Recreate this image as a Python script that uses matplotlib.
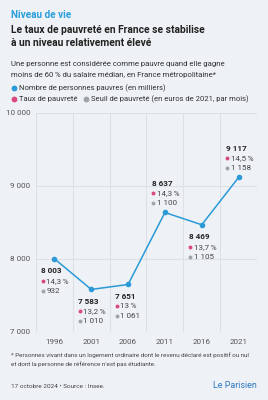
import matplotlib
matplotlib.use("Agg")
import matplotlib.pyplot as plt
from matplotlib.lines import Line2D

plt.rcParams['font.family'] = ['Roboto', 'DejaVu Sans']

years = ['1996', '2001', '2006', '2011', '2016', '2021']
pauvres = [8003, 7583, 7651, 8637, 8469, 9117]
taux = [14.3, 13.2, 13.0, 14.3, 13.7, 14.5]
seuil = [932, 1010, 1061, 1100, 1105, 1158]
label_pos = ['below', 'below', 'below', 'above', 'below', 'above']
yticks = [7000, 8000, 9000, 10000]

BG = '#eef1f5'
BLUE = '#2b9ad6'
PINK = '#d9487e'
GREY = '#a0a3a7'
TXT = '#222222'
GRID = '#dde1e5'

W, H = 268, 400
fig = plt.figure(figsize=(W / 100, H / 100), dpi=100, facecolor=BG)

def fx(x):
    return x / W

def fy(y):
    return 1 - y / H

def fmt_int(v):
    return f"{v:,}".replace(",", " ")

def fmt_pct(v):
    s = f"{v:.1f}".replace(".", ",")
    if s.endswith(",0"):
        s = s[:-2]
    return s + "\u2009%"

def dot(x, y, color, ms=4.2):
    fig.add_artist(Line2D([fx(x)], [fy(y)], marker='o', ms=ms, color=color, mew=0,
                          transform=fig.transFigure))

# Header
fig.text(fx(11), fy(15), "Niveau de vie", color='#2a9fdc', fontsize=7.2, fontweight='bold', va='center')
fig.text(fx(11), fy(30), "Le taux de pauvreté en France se stabilise", color=TXT, fontsize=7.4, fontweight='bold', va='center')
fig.text(fx(11), fy(43), "à un niveau relativement élevé", color=TXT, fontsize=7.4, fontweight='bold', va='center')
fig.text(fx(11), fy(64), "Une personne est considérée comme pauvre quand elle gagne", color='#333333', fontsize=5.6, va='center')
fig.text(fx(11), fy(75), "moins de 60\u2009% du salaire médian, en France métropolitaine*", color='#333333', fontsize=5.6, va='center')

# Legend
dot(14, 88, BLUE)
fig.text(fx(19), fy(88), "Nombre de personnes pauvres (en milliers)", color='#333333', fontsize=5.5, va='center')
dot(14, 99, PINK)
fig.text(fx(19), fy(99), "Taux de pauvreté", color='#333333', fontsize=5.5, va='center')
dot(86, 99, GREY)
fig.text(fx(91), fy(99), "Seuil de pauvreté (en euros de 2021, par mois)", color='#333333', fontsize=5.5, va='center')

# Axes
left, right, top, bottom = 36, 257, 113, 332
ax = fig.add_axes([fx(left), fy(bottom), fx(right - left), (bottom - top) / H])
ax.set_facecolor(BG)
x = list(range(len(years)))
ax.plot(x, pauvres, color=BLUE, lw=1.1, marker='o', ms=3, zorder=3)
ax.set_xlim(-0.5, len(years) - 0.5)
ax.set_ylim(7000, 10000)
ax.set_yticks(yticks)
ax.set_yticklabels([fmt_int(v) for v in yticks])
ax.set_xticks(x)
ax.set_xticklabels(years)
ax.set_xticks([i - 0.5 for i in range(len(years) + 1)], minor=True)
ax.tick_params(axis='both', which='both', length=0, labelsize=5.8, colors='#555555')
ax.tick_params(axis='x', pad=5)
ax.tick_params(axis='y', pad=4)
ax.grid(axis='y', which='major', color=GRID, lw=0.8)
ax.grid(axis='x', which='minor', color=GRID, lw=0.8)
for s in ax.spines.values():
    s.set_visible(False)

for i in range(len(years)):
    if label_pos[i] == 'below':
        offs = [-12, -22, -32]
    else:
        offs = [29, 19, 9]
    dx = -13
    ax.annotate(fmt_int(pauvres[i]), (i, pauvres[i]), xytext=(dx, offs[0]), textcoords='offset pixels',
                fontsize=5.9, fontweight='bold', color=TXT, va='center', ha='left')
    ax.plot([i], [pauvres[i]], marker='o', ms=2.8, mew=0, color=PINK, ls='none',
            transform=ax.transData + matplotlib.transforms.Affine2D().translate(dx + 1.5, offs[1]))
    ax.annotate(fmt_pct(taux[i]), (i, pauvres[i]), xytext=(dx + 5, offs[1]), textcoords='offset pixels',
                fontsize=5.8, color='#444444', va='center', ha='left')
    ax.plot([i], [pauvres[i]], marker='o', ms=2.8, mew=0, color=GREY, ls='none',
            transform=ax.transData + matplotlib.transforms.Affine2D().translate(dx + 1.5, offs[2]))
    ax.annotate(fmt_int(seuil[i]), (i, pauvres[i]), xytext=(dx + 5, offs[2]), textcoords='offset pixels',
                fontsize=5.8, color='#444444', va='center', ha='left')

# Footer
fig.text(fx(11), fy(355), "* Personnes vivant dans un logement ordinaire dont le revenu déclaré est positif ou nul", color='#444444', fontsize=4.5, va='center')
fig.text(fx(11), fy(364), "et dont la personne de référence n'est pas étudiante.", color='#444444', fontsize=4.5, va='center')
fig.text(fx(11), fy(386), "17 octobre 2024 • Source : Insee.", color='#444444', fontsize=4.6, va='center')
fig.text(fx(257), fy(386), "Le Parisien", color='#2a78c2', fontsize=6.4, va='center', ha='right')

fig.savefig("out.png", dpi=100, facecolor=BG)
